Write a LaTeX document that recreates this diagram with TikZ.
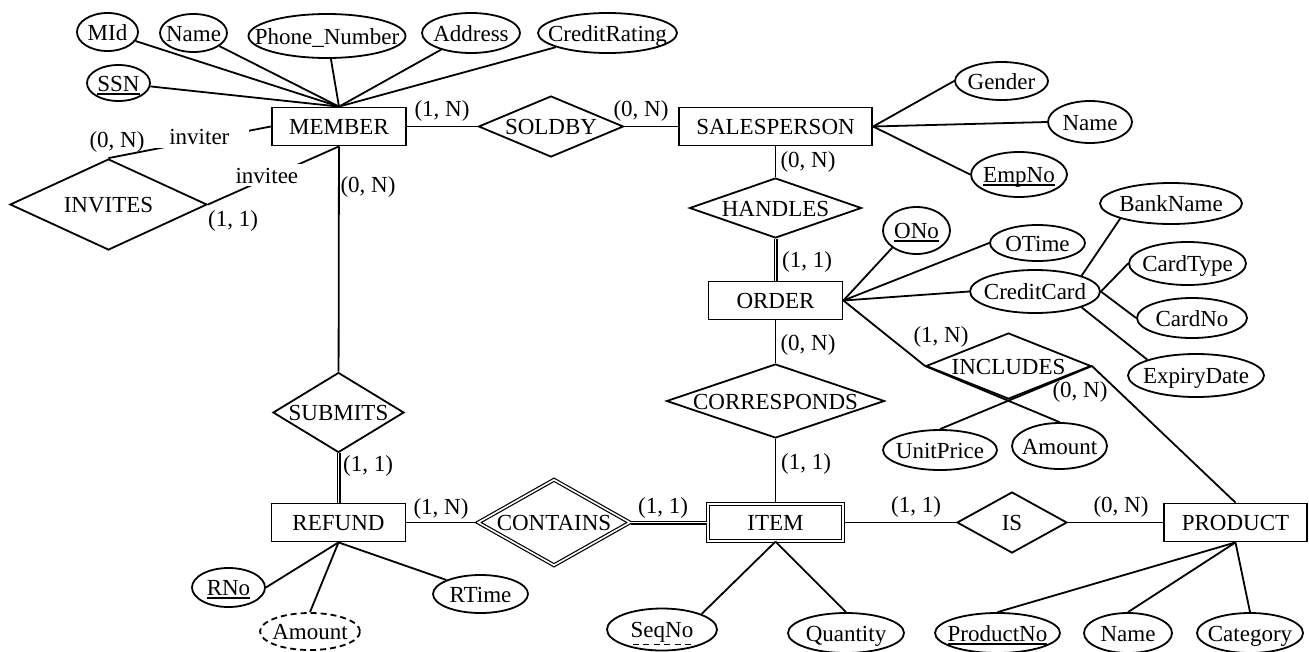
\documentclass[tikz,border=0pt]{standalone}
\usepackage{fontspec}
\setmainfont{Liberation Serif}
\usetikzlibrary{shapes.geometric}

\newsavebox{\ulbox}
\newcommand{\keyline}[1]{\sbox{\ulbox}{#1}\rlap{\smash{\raisebox{-3.6pt}{\rule{\wd\ulbox}{1.7pt}}}}\usebox{\ulbox}}
\newcommand{\dashunder}[1]{\sbox{\ulbox}{#1}\rlap{\smash{\raisebox{-7.5pt}{\hbox to \wd\ulbox{%
    \xleaders\hbox to 10pt{\hss\vrule width 6pt height 1.3pt\hss}\hfill}}}}\usebox{\ulbox}}

\begin{document}
\begin{tikzpicture}[x=1pt, y=-1pt, line width=1.8pt,
    font=\fontsize{23}{27}\selectfont,
    every node/.style={text height=16pt, text depth=0pt},
    entity/.style={draw, rectangle, minimum width=134pt, minimum height=38pt, inner xsep=17.5pt},
    weakentity/.style={entity, double, line width=1.2pt, double distance=1.6pt, minimum width=135pt, minimum height=37pt},
    rel/.style={draw, diamond, inner xsep=-100pt, inner ysep=0pt},
    weakrel/.style={rel, double, line width=1.2pt, double distance=1.6pt},
    attr/.style={draw, ellipse, inner xsep=-100pt, inner ysep=0pt, minimum height=40pt},
    derived/.style={attr, dash pattern=on 6pt off 4pt},
    card/.style={inner sep=1pt, text height=, text depth=},
    role/.style={fill=white, inner xsep=20pt, inner ysep=3pt},
    dbl/.style={double, line width=1.2pt, double distance=1.6pt}]

    \useasboundingbox (0,0) rectangle (1309,651);

    % Entities and relationships
    \node [entity] at (339,126.5) (member) {MEMBER};
    \node [rel, right of=member, node distance=212pt, minimum width=145pt, minimum height=61pt] (soldby) {SOLDBY};
    \node [entity, right of=soldby, node distance=224.5pt, minimum width=193pt] (salesperson) {SALESPERSON};
    \node [rel, below of=salesperson, node distance=81.5pt, minimum width=172pt, minimum height=60pt] (handles) {HANDLES};
    \node [entity, below of=handles, node distance=92.5pt] (order) {ORDER};
    \node [rel, below of=order, node distance=100.5pt, minimum width=218pt, minimum height=74pt] (corresponds) {CORRESPONDS};
    \node [weakentity, below of=corresponds, node distance=121.5pt] (item) {ITEM};
    \node [weakrel, left of=item, node distance=221.5pt, minimum width=152pt, minimum height=86pt] (contains) {CONTAINS};
    \node [entity, left of=contains, node distance=215.5pt] (refund) {REFUND};
    \node [rel, above of=refund, node distance=110pt, minimum width=131pt, minimum height=80pt] (submits) {SUBMITS};
    \node [rel, right of=item, node distance=236.5pt, minimum width=110pt, minimum height=61pt] (is) {IS};
    \node [entity, right of=is, node distance=223.5pt] (product) {PRODUCT};
    \node [rel, minimum width=197pt, minimum height=91pt] at (108.5,204.5) (invites) {INVITES};
    \node [rel, minimum width=165pt, minimum height=66pt] at (1008.5,366) (includes) {INCLUDES};

    % Attributes
    \node [attr, minimum width=61pt, minimum height=38pt] at (107.5,32) (mid) {MId};
    \node [attr, minimum width=67pt, minimum height=38pt] at (193.5,33) (name1) {Name};
    \node [attr, minimum width=157pt, minimum height=44pt] at (327,36) (phone) {Phone\_Number};
    \node [attr, minimum width=98pt] at (471,33) (address) {Address};
    \node [attr, minimum width=139pt] at (607.5,33) (rating) {CreditRating};
    \node [attr, minimum width=63pt, minimum height=36pt] at (118.5,83) (ssn) {\keyline{SSN}};
    \node [attr, minimum width=93pt, minimum height=38pt] at (1001.5,81) (gender) {Gender};
    \node [attr, minimum width=84pt, minimum height=42pt] at (1090,122) (name2) {Name};
    \node [attr, minimum width=96pt, minimum height=45pt] at (1019,174.5) (empno) {\keyline{EmpNo}};
    \node [attr, minimum width=67pt, minimum height=47pt] at (916.5,230.5) (ono) {\keyline{ONo}};
    \node [attr, minimum width=95pt, minimum height=36pt] at (1037.5,243) (otime) {OTime};
    \node [attr, minimum width=142pt, minimum height=41pt] at (1171,203.5) (bankname) {BankName};
    \node [attr, minimum width=130pt, minimum height=43pt] at (1035,291.5) (creditcard) {CreditCard};
    \node [attr, minimum width=117pt, minimum height=43pt] at (1187.5,263.5) (cardtype) {CardType};
    \node [attr, minimum width=110pt] at (1192,318) (cardno) {CardNo};
    \node [attr, minimum width=136pt, minimum height=43pt] at (1196,375.5) (expiry) {ExpiryDate};
    \node [attr, minimum width=114pt] at (940,450) (unitprice) {UnitPrice};
    \node [attr, minimum width=95pt, minimum height=46pt] at (1059.5,446) (amount2) {Amount};
    \node [attr, minimum width=73pt, minimum height=39pt] at (228.5,587.5) (rno) {\keyline{RNo}};
    \node [derived, minimum width=100pt, minimum height=37pt] at (310,631.5) (amount1) {Amount};
    \node [attr, minimum width=95pt, minimum height=38pt] at (480.5,594) (rtime) {RTime};
    \node [attr, minimum width=110pt, minimum height=42pt] at (662,629.5) (seqno) {\dashunder{SeqNo}};
    \node [attr, minimum width=116pt] at (846,633) (quantity) {Quantity};
    \node [attr, minimum width=125pt] at (997.5,633) (productno) {\keyline{ProductNo}};
    \node [attr, minimum width=88pt] at (1128,633) (name3) {Name};
    \node [attr, minimum width=106pt] at (1250,633) (category) {Category};

    % Cardinalities
    \node [card] at (442,111) (c1) {(1, N)};
    \node [card] at (641,111) (c2) {(0, N)};
    \node [card] at (117,142) (c3) {(0, N)};
    \node [card] at (233,221) (c4) {(1, 1)};
    \node [card] at (368,187) (c5) {(0, N)};
    \node [card] at (808,162) (c6) {(0, N)};
    \node [card] at (807,262) (c7) {(1, 1)};
    \node [card] at (808,345) (c8) {(0, N)};
    \node [card] at (806,464) (c9) {(1, 1)};
    \node [card] at (368,466) (c10) {(1, 1)};
    \node [card] at (441,509) (c11) {(1, N)};
    \node [card] at (663,508) (c12) {(1, 1)};
    \node [card] at (916,507) (c13) {(1, 1)};
    \node [card] at (1121,507) (c14) {(0, N)};
    \node [card] at (941,337) (c15) {(1, N)};
    \node [card] at (1080,392) (c16) {(0, N)};

    % Relationship lines
    \draw (member) -- (soldby);
    \draw (soldby) -- (salesperson);
    \draw (salesperson) -- (handles);
    \draw[dbl] (handles) -- (order);
    \draw (order) -- (corresponds);
    \draw (corresponds) -- (item);
    \draw (member) -- (submits);
    \draw[dbl] (submits) -- (refund);
    \draw (refund) -- (contains);
    \draw[dbl] (contains) -- (item);
    \draw (item) -- (is);
    \draw (is) -- (product);
    \draw (order.east) -- (includes.west);
    \draw (includes.east) -- (product.north);
    \draw (invites.north) -- node[role, pos=0.56, yshift=3.5pt] (inviter) {inviter} (member.west);
    \draw (invites.east) -- node[role, pos=0.45, yshift=3pt] (invitee) {invitee} (member.south);

    % Attribute lines
    \foreach \a in {mid, name1, phone, address, rating, ssn}
        \draw (\a) -- (member.north);
    \foreach \a in {gender, name2, empno}
        \draw (salesperson.east) -- (\a.west);
    \draw (order.east) -- (ono.south west);
    \draw (order.east) -- (otime.west);
    \draw (order.east) -- (creditcard.west);
    \draw (creditcard.north east) -- (bankname.south west);
    \draw (creditcard.east) -- (cardtype.west);
    \draw (creditcard.east) -- (cardno.west);
    \draw (creditcard.south east) -- (expiry.north west);
    \draw (includes.west) -- (amount2.north);
    \draw (includes.east) -- (unitprice.north);
    \draw (refund.south) -- (rno.east);
    \draw (refund.south) -- (amount1.north);
    \draw (refund.south) -- (rtime.north west);
    \draw (item.south) -- (seqno.north east);
    \draw (item.south) -- (quantity.north);
    \foreach \a in {productno, name3, category}
        \draw (product.south) -- (\a.north);

\end{tikzpicture}
\end{document}
